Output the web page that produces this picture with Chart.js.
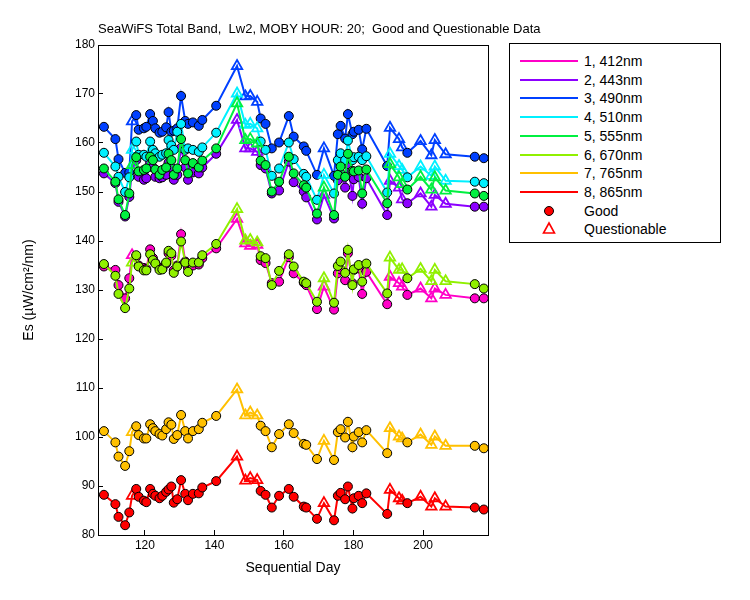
<!DOCTYPE html>
<html><head><meta charset="utf-8">
<script src="https://cdn.jsdelivr.net/npm/chart.js@4"></script>
<style>
body{margin:0;background:#fff;font-family:"Liberation Sans",Arial,sans-serif;}
#wrap{position:relative;width:750px;height:600px;}
.t{position:absolute;font-size:13px;color:#000;white-space:nowrap;}
#legend{position:absolute;left:509px;top:43px;width:210px;height:198px;border:1px solid #000;background:#fff;font-size:14px;}
#legend div{position:absolute;left:0;width:208px;height:18px;line-height:18px;white-space:nowrap;}
</style></head><body>
<div id="wrap">
<canvas id="c" width="750" height="600"></canvas>
<div class="t" style="left:98px;width:390px;text-align:center;top:21px;">SeaWiFS Total Band,&nbsp; Lw2, MOBY HOUR: 20;&nbsp; Good and Questionable Data</div>
<div class="t" style="left:98px;width:390px;text-align:center;top:559px;font-size:14px;">Sequential Day</div>
<div class="t" style="left:-32px;top:282px;transform:rotate(-90deg);font-size:14px;width:120px;text-align:center;">Es (µW/cm²/nm)</div>
<div id="legend"></div>
</div>
<script>
const days=[108.2,111.5,112.4,114.3,115.5,116.3,117.5,118.2,119.7,120.4,121.5,122.3,123,124.2,125,126.1,126.8,127.6,128.3,129.3,130.4,131.6,132.4,133.8,135.5,136.5,140.5,146.5,148.9,150.3,152.3,153.3,154.7,156.5,158.6,161.4,162.8,165.7,166.4,169.5,171.5,174.4,175.5,176.3,177.6,178.4,179.7,180.1,181.5,182.5,183.7,189.7,190.5,193.1,194,195.5,199.3,202.4,203.4,206.5,214.9,217.5];
const questionable=[6,28,29,30,31,41,53,54,55,57,58,59,60];
const labels=["1, 412nm","2, 443nm","3, 490nm","4, 510nm","5, 555nm","6, 670nm","7, 765nm","8, 865nm"];
const colors=["#ff00c8","#8c00ff","#0040ff","#00f0ff","#00f040","#90f000","#ffc000","#ff0000"];
const s1=[134.8,134.1,131,128.3,132.4,137.1,136.8,135,134.5,134.3,138.3,136.5,135.5,134.5,134.3,135.4,137.5,137,134,135,141.4,135.8,134.5,135,135.2,136.5,138.5,144.5,139.5,139,139.2,136.1,135.5,131.4,131.7,136.7,133.4,131.5,131,126.1,130.7,126,133.4,134.2,132,137.5,131.4,134.1,134.4,129.2,133.7,127.1,132.7,131.4,130.7,129,130.3,128.3,130.3,129,128.3,128.3];
const s2=[153.8,151.8,148,145,149,154.5,156.5,153.1,152.5,152.8,156,155,153.1,152.8,153,153.5,156,155,152.5,153.5,159,155,152.5,154,153.8,155,157.8,164.7,158.9,158.9,158.2,155.5,154.8,149.7,150.3,156.2,152,150.1,148.9,144.4,149.4,144.6,152.4,153.8,150.9,155.7,149.2,152.6,153.1,147.6,152.8,145.3,152.3,150.9,148.5,147.7,149.7,147,149.4,147.6,147,147];
const s3=[163.3,160.8,156.7,153.9,154,164.4,165.7,162.7,163,163.3,165.9,164.5,163,162.1,162.3,163.2,166.3,162.3,162.5,163,169.6,164.5,163.9,164.2,163.5,164.7,167.6,175.7,169.5,169.6,168.4,165,163.9,158.9,160.1,165.5,161.3,159.3,158.4,153.5,158.9,153.3,161.8,163.5,160.9,165.9,161.8,162.3,162.7,158.7,162.9,155.3,163.1,160.8,159.1,158,160.4,157.5,160.6,157.7,157.2,156.9];
const s4=[158,155.2,153.1,150,153,158.6,160.3,157.6,157.6,157.2,160.3,158.6,157.9,157.2,157.6,157.9,160.6,159.5,158.6,162.3,163.9,158.6,158.9,158.6,158.2,159.1,162.1,170.1,163.7,163.9,163,160.3,158.6,153.3,154.8,160.1,156.7,153.7,153.1,148.4,153.5,149.7,156.5,157.9,156.5,160.5,156.5,157.1,157.2,156.5,157.3,149.9,157.8,155.3,154.5,153,155.2,153.3,155.2,152.3,152.1,151.8];
const s5=[154.8,152.1,148.5,145.3,149.7,155.5,157.1,154.2,154.5,154.8,157.2,156.5,154.6,153.5,154.5,155,157.8,156.5,153.5,154.8,160.8,156.5,153.8,155.9,155,156.4,158.9,168.1,160.6,160.8,159.9,156.4,155.5,150.1,152.1,157.2,153.8,151.4,150.9,145.6,150.9,145.3,153.5,155.2,153.1,157.8,154.3,154.2,154.4,149.7,154.6,147.7,155.7,153,151.6,150.5,153.1,150.5,153,150.3,149.7,149.2];
const s6=[135.3,132.9,129.2,126.3,130.3,135.6,137.1,134.8,134,134,137.3,136.1,135.4,134.1,134.2,135.6,138,137.5,133.5,134.8,139.9,135.6,133.7,135.6,135.6,137.1,139.4,146.5,140.1,140.2,139.7,136.9,136.5,131,133.9,137.3,134.8,131.7,131.4,127.6,132.4,127.4,134.9,135.8,133.5,138.2,131,134.2,135.1,131.7,135.4,129.3,136.6,134.1,134.2,132.4,134.3,131.8,134.1,131.8,131.2,130.3];
const s7=[101.2,98.9,96,94.1,97.1,101,102.2,100.4,99.7,99.7,102.6,101.8,101.2,100.6,100.3,101.6,103,102.5,99.6,100.4,104.5,101.2,99.7,101.2,101.6,102.9,104.3,109.7,104.4,105,104.4,102.3,101.2,97.9,100.6,102.6,100.8,98.6,98.4,95.5,99.2,95.3,101,101.6,99.9,103.1,97.9,100.1,101,98.9,101.4,96.7,101.8,100.1,99.7,98.9,100.5,98.4,100.1,98.2,98.2,97.7];
const s8=[88.2,86.3,83.7,82,84.6,88,89.4,87.8,87,86.7,89.4,88.4,88,87.5,88,88.8,89.3,89.9,86.6,87.3,91.2,88.4,87.1,88.4,88.5,89.7,91,96,91.1,91.6,91.2,89,88.2,85.6,88,89.4,87.8,85.8,85.6,83.3,86.5,83,88,88.6,87.3,89.9,85.4,87.5,88,86.5,88.5,84.3,89.2,87.5,87,86.5,87.8,85.8,87.5,85.8,85.6,85.2];
const series=[s1,s2,s3,s4,s5,s6,s7,s8];
const isQ=i=>questionable.includes(i+1);
const datasets=series.map((s,k)=>({
  label:labels[k],
  data:s.map((v,i)=>({x:days[i],y:v})),
  borderColor:colors[k],borderWidth:2,order:-k,
  pointStyle:c=>isQ(c.dataIndex)?'triangle':'circle',
  pointRadius:c=>isQ(c.dataIndex)?6:4.5,
  pointBackgroundColor:c=>isQ(c.dataIndex)?'rgba(0,0,0,0)':colors[k],
  pointBorderColor:c=>isQ(c.dataIndex)?colors[k]:'#000',
  pointBorderWidth:c=>isQ(c.dataIndex)?1.8:1,
  tension:0
}));
const frame={id:'frame',afterDraw(ch){const a=ch.chartArea,x=ch.ctx;x.save();x.strokeStyle='#000';x.lineWidth=1;x.strokeRect(a.left+0.5,a.top+0.5,a.right-a.left,a.bottom-a.top);x.restore();}};
new Chart(document.getElementById('c'),{type:'line',data:{datasets},plugins:[frame],
options:{responsive:false,animation:false,events:[],
layout:{padding:{left:0,top:45,right:262,bottom:0}},
plugins:{legend:{display:false},tooltip:{enabled:false}},
scales:{
 x:{type:'linear',min:106.5,max:218.7,afterFit:s=>{s.height=65;},
   afterBuildTicks:s=>{s.ticks=[120,140,160,180,200].map(v=>({value:v}));},
   grid:{drawOnChartArea:false,tickLength:-5,color:'#000'},border:{color:'#000'},
   ticks:{color:'#000',font:{family:'Liberation Sans',size:12},padding:8}},
 y:{min:80,max:180,afterFit:s=>{s.width=98;},
   ticks:{stepSize:10,color:'#000',font:{family:'Liberation Sans',size:12},padding:8},
   grid:{drawOnChartArea:false,tickLength:-5,color:'#000'},border:{color:'#000'}}
}}});
const lg=document.getElementById('legend');
labels.forEach((l,k)=>{const d=document.createElement('div');d.style.top=(8+k*18.7)+'px';
 d.innerHTML=`<svg width="60" height="18" style="position:absolute;left:10px;top:0"><line x1="0" y1="9" x2="58" y2="9" stroke="${colors[k]}" stroke-width="2"/></svg><span style="position:absolute;left:74px">${l}</span>`;lg.appendChild(d);});
[['Good','<circle cx="29" cy="9" r="4.5" fill="#ff0000" stroke="#000"/>'],['Questionable','<polygon points="29,3 34.5,13 23.5,13" fill="none" stroke="#ff0000" stroke-width="1.6"/>']].forEach((p,j)=>{
 const d=document.createElement('div');d.style.top=(8+(8+j)*18.7)+'px';
 d.innerHTML=`<svg width="60" height="18" style="position:absolute;left:10px;top:0">${p[1]}</svg><span style="position:absolute;left:74px">${p[0]}</span>`;lg.appendChild(d);});
</script></body></html>
